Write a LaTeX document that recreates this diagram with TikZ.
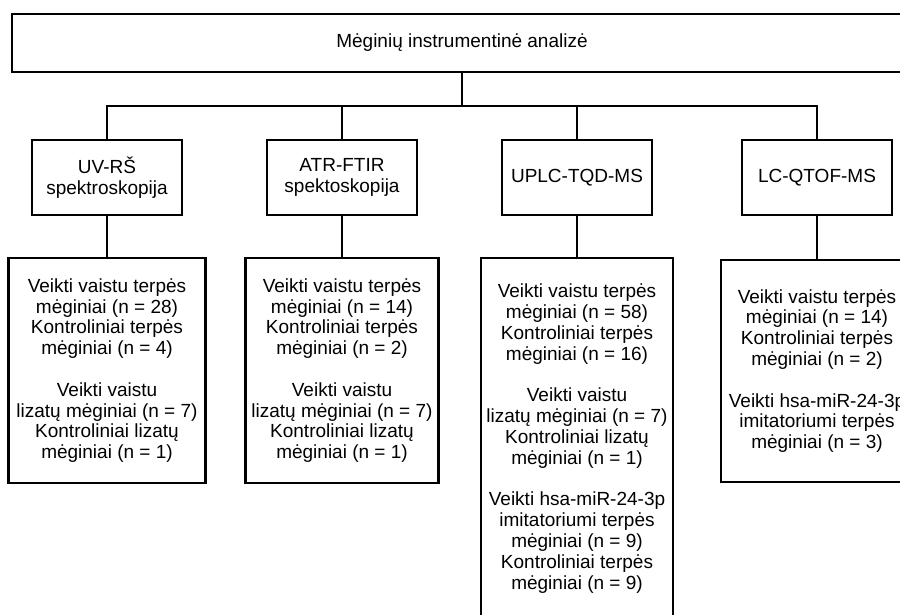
\documentclass[tikz,border=0pt]{standalone}
\usepackage{fontspec}
\setmainfont{Liberation Sans}
\tikzset{
    box/.style={rectangle,draw,align=center,inner sep=0pt,font=\fontsize{19}{20.8}\selectfont},
    methodbox/.style={minimum width=150,minimum height=75},
    samplebox/.style={minimum width=193,minimum height=225},
    every node/.style={box},
}

\begin{document}
\begin{tikzpicture}[x=1pt,y=-1pt,line width=2.4pt]
            \useasboundingbox (0,0) rectangle (900,614);
            \clip (0,0) rectangle (900,614);
            \node[minimum width=900,minimum height=58] (top) at (462,43) {Mėginių instrumentinė analizė};
            \node[methodbox] (uv) at (107,177.5) {UV-RŠ\\spektroskopija};
            \node[methodbox] (atr) at (342,177.5) {ATR-FTIR\\spektoskopija};
            \node[methodbox] (uplc) at (577,177.5) {UPLC-TQD-MS};
            \node[methodbox] (lc) at (817,177.5) {LC-QTOF-MS};
            \node[samplebox,minimum width=197] (uvs) at (107,370.5) {Veikti vaistu terpės\\mėginiai (n = 28)\\Kontroliniai terpės\\mėginiai (n = 4)\\[20.8pt]Veikti vaistu\\lizatų mėginiai (n = 7)\\Kontroliniai lizatų\\mėginiai (n = 1)};
            \node[samplebox] (atrs) at (342,370.5) {Veikti vaistu terpės\\mėginiai (n = 14)\\Kontroliniai terpės\\mėginiai (n = 2)\\[20.8pt]Veikti vaistu\\lizatų mėginiai (n = 7)\\Kontroliniai lizatų\\mėginiai (n = 1)};
            \node[samplebox,minimum width=192,minimum height=361] (uplcs) at (577,438.5) {Veikti vaistu terpės\\mėginiai (n = 58)\\Kontroliniai terpės\\mėginiai (n = 16)\\[20.8pt]Veikti vaistu\\lizatų mėginiai (n = 7)\\Kontroliniai lizatų\\mėginiai (n = 1)\\[20.8pt]Veikti hsa-miR-24-3p\\imitatoriumi terpės\\mėginiai (n = 9)\\Kontroliniai terpės\\mėginiai (n = 9)};
            \node[samplebox,minimum width=192,minimum height=222] (lcs) at (817,371) {Veikti vaistu terpės\\mėginiai (n = 14)\\Kontroliniai terpės\\mėginiai (n = 2)\\[20.8pt]Veikti hsa-miR-24-3p\\imitatoriumi terpės\\mėginiai (n = 3)};
            \coordinate (bus) at (462,106);
            \draw (top) -- (bus);
            \draw (bus) -| (uv);
            \draw (bus) -| (atr);
            \draw (bus) -| (uplc);
            \draw (bus) -| (lc);
            \draw (uv) -- (uvs);
            \draw (atr) -- (atrs);
            \draw (uplc) -- (uplcs);
            \draw (lc) -- (lcs);
        \end{tikzpicture}
\end{document}
